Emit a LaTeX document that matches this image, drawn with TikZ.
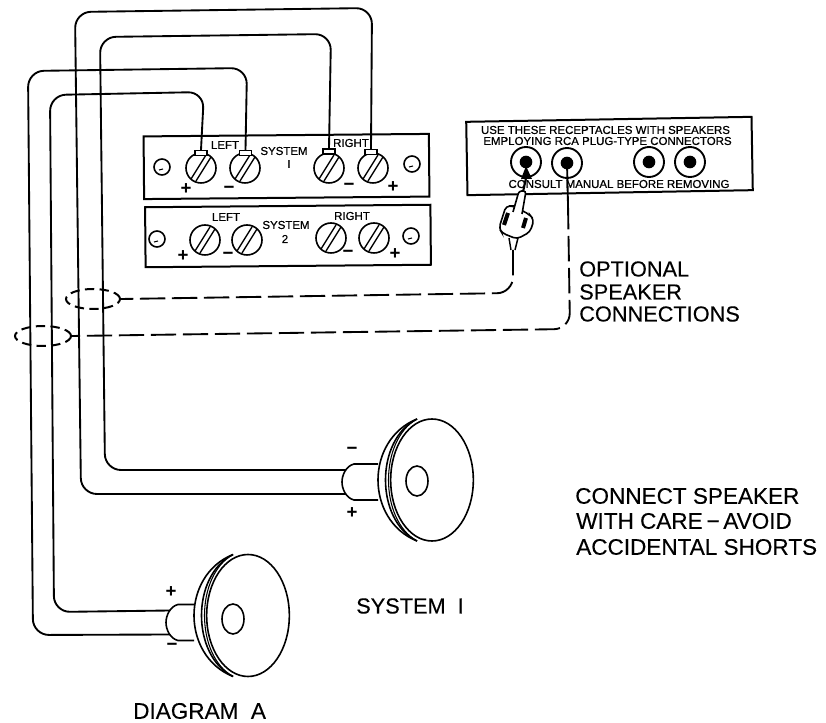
\documentclass[tikz,border=0pt]{standalone}
\usepackage{fontspec}
\setmainfont{Liberation Sans}
\newfontfamily\heavyfont[FakeBold=0.6]{Liberation Sans}
\newfontfamily\midfont[FakeBold=0.25]{Liberation Sans}
\usetikzlibrary{calc,
shapes.geometric,
positioning}

\tikzset{
    pics/speaker/.style n args={2}{code={
        \node [ellipse, draw, fill = white, line width = 1.2pt, inner sep = 0,
            minimum width = 62pt, minimum height = 91.5pt] (-face) at (0, 0) {};
        \node [ellipse, draw, line width = 1.2pt, inner sep = 0,
            minimum width = 16.5pt, minimum height = 22.5pt] (-hole) at (-15, {#2/2}) {};
        \draw [line width = 1.2pt] (-15, -61) .. controls (-67, -40) and (-67, 40) .. (-15, 61);
        \draw [line width = 1.2pt] (-15, -61) .. controls (-57, -40) and (-57, 40) .. (-15, 61);
        \draw [line width = .8pt] (-15, -61) .. controls (-53, -40) and (-53, 40) .. (-15, 61);
        % neck, #1 shortens it and #2 moves it down
        \draw [line width = 1.2pt] (-54, {#2-18}) -- ({-78+#1}, {#2-18})
            .. controls ({-86+#1}, {#2-16}) and ({-90+#1}, {#2-7}) .. ({-90+#1}, #2)
            .. controls ({-90+#1}, {#2+7}) and ({-86+#1}, {#2+16}) .. ({-78+#1}, {#2+18})
            -- (-54, {#2+18});
        \coordinate (-up) at ({-86+#1}, {#2-12});
        \coordinate (-low) at ({-86+#1}, {#2+12});
    }}
}

\begin{document}
\begin{tikzpicture} [
        x = 0.75pt,
        y = -0.75pt,
        wire/.style={line width = 1.4pt, rounded corners = 12pt},
        dashwire/.style={wire, dash pattern = on 19pt off 5pt},
        panel/.style={rectangle, draw, fill = white, line width = 1.5pt, minimum width = 214pt},
        screw/.style={circle, draw, line width = 1.2pt, inner sep = 0, minimum size = 22.5pt},
        smallscrew/.style={circle, draw, line width = 1.2pt, inner sep = 0, minimum size = 12pt},
        tabbox/.style={rectangle, draw, fill = white, line width = 1pt, inner sep = 0,
                minimum width = 9pt, minimum height = 3.8pt},
        socket/.style={circle, draw, line width = 1.4pt, inner sep = 0, minimum size = 22.5pt},
        socketdot/.style={circle, fill = black, inner sep = 0, minimum size = 9.5pt},
        ring/.style={ellipse, draw, line width = 1.5pt, inner sep = 0,
                dash pattern = on 7pt off 4pt, minimum height = 15pt},
        smalltext/.style={inner sep = 0, font = \heavyfont\fontsize{8.6pt}{10pt}\selectfont},
        bigtext/.style={inner sep = 0, anchor = west, font = \midfont\fontsize{16.3pt}{19pt}\selectfont},
        caretext/.style={bigtext, font = \midfont\fontsize{16.9pt}{19pt}\selectfont},
        sign/.style={inner sep = 0, font = \fontsize{14pt}{16pt}\selectfont\bfseries}]

    \useasboundingbox (0, 0) rectangle (826, 723);

    % panels
    \node [panel, rotate = .5, minimum height = 47pt] (sysone) at (286.5, 166.5) {};
    \node [panel, rotate = .5, minimum height = 45pt] (systwo) at (288, 236) {};
    \node [panel, rotate = 1, minimum width = 214pt, minimum height = 55pt] (rca) at (609.5, 156) {};

    \foreach \name/\px/\py in {lp/201/168, lm/245/168, rm/329/168, rp/373/168,
            slp/205/240, slm/247/240, srm/331/238, srp/374/238} {
        \node [screw] (\name) at (\px, \py) {};
        \draw [line width = 1pt] ($(\name) + (-10, 11)$) -- ($(\name) + (5, -13)$);
        \draw [line width = 1pt] ($(\name) + (-5, 13)$) -- ($(\name) + (10, -11)$);
    }
    \foreach \name/\px/\py in {aone/162/167, bone/412/164, atwo/157/239, btwo/411/236} {
        \node [smallscrew] (\name) at (\px, \py) {};
        \draw [line width = .8pt] ($(\name) + (-3, 3)$) -- ($(\name) + (1, 2)$);
    }

    \node [tabbox] (tlp) at (201, 153) {};
    \node [tabbox] (tlm) at (245.5, 153) {};
    \node [tabbox] (trm) at (329, 151.5) {};
    \node [tabbox] (trp) at (371, 152) {};

    % terminal labels
    \node [smalltext] (leftone) at (225, 145) {LEFT};
    \node [smalltext] (sysonea) at (284, 151) {SYSTEM};
    \node [smalltext] (sysoneb) at (289, 164) {I};
    \node [smalltext] (rightone) at (351, 143) {RIGHT};
    \node [smalltext] (lefttwo) at (226, 217) {LEFT};
    \node [smalltext] (systwoa) at (286, 225) {SYSTEM};
    \node [smalltext] (systwob) at (285, 239) {2};
    \node [smalltext] (righttwo) at (352, 216) {RIGHT};

    \node [sign] (plp) at (186, 189) {+};
    \node [sign] (plm) at (229, 190) {−};
    \node [sign] (prm) at (349, 187) {−};
    \node [sign] (prp) at (393, 187) {+};
    \node [sign] (qlp) at (183, 256) {+};
    \node [sign] (qlm) at (228, 256) {−};
    \node [sign] (qrm) at (348, 254) {−};
    \node [sign] (qrp) at (395, 254) {+};

    % receptacles
    \foreach \name/\px/\py in {socka/526/162, sockb/567/163, sockc/649/162, sockd/690/162} {
        \node [socket] (\name) at (\px, \py) {};
        \node [socketdot] (\name dot) at (\px, \py) {};
    }
    \node [smalltext] (rcaone) at (605.5, 130) {USE THESE RECEPTACLES WITH SPEAKERS};
    \node [smalltext] (rcatwo) at (607.5, 141) {EMPLOYING RCA PLUG-TYPE CONNECTORS};
    \node [smalltext] (rcathree) at (619, 184) {CONSULT MANUAL BEFORE REMOVING};

    % speakers
    \pic (spkone) at (432, 480) {speaker={0}{2}};
    \pic (spka) at (248, 615.5) {speaker={8}{7}};

    \node [sign] (spkminus) at (352, 451) {−};
    \node [sign] (spkplus) at (352, 513) {+};
    \node [sign] (aplus) at (171, 592) {+};
    \node [sign] (aminus) at (172, 647) {−};

    % speaker wires
    \draw [wire] (trp.north) -- (372, 8) -- (75, 12) -- (81, 494) -- (spkone-low);
    \draw [wire] (trm.north) -- (331, 34) -- (100, 37) -- (105, 470) -- (spkone-up);
    \draw [wire] (tlm.north) -- (247, 68) -- (28, 71) -- (33, 635) -- (spka-low);
    \draw [wire] (tlp.north) -- (204, 92) -- (50, 95) -- (54, 612) -- (spka-up);

    % optional connections
    \node [ring, minimum width = 40.5pt] (ringa) at (93, 299) {};
    \node [ring, minimum width = 42pt] (ringb) at (43, 336) {};

    \coordinate (plugend) at (513, 250);
    \coordinate (sockend) at (568, 204);
    \draw [dashwire] (plugend) -- (513, 293) -- (ringa.east);
    \draw [line width = 1.4pt] (sockb.center) -- (sockend);
    \draw [dashwire] (sockend) -- (570, 329) -- (ringb.east);

    % plug
    \fill (526, 166) -- (532, 179) -- (521, 179) -- cycle;
    \draw [line width = 1.6pt] (526, 178) -- (523, 192);
    \draw [line width = 1.2pt, fill = white, rounded corners = 3pt]
        (513, 206) -- (506, 206) -- (499, 228) -- (502, 233) -- (517, 239)
        -- (530, 232) -- (534, 220) -- (530, 215) -- (523, 211) -- cycle;
    \draw [line width = 1.2pt, fill = white, rounded corners = 2pt]
        (513, 212) -- (519, 191) -- (526, 191) -- (522, 214);
    \draw [line width = 3pt] (508, 213) -- (504, 225);
    \draw [line width = 3pt] (526, 218) -- (523, 228);
    \draw [line width = 1.1pt] (509, 238) -- (511, 250);
    \draw [line width = 1.1pt] (518, 238) -- (515, 250);

    % texts
    \node [bigtext] (opta) at (579, 269) {OPTIONAL};
    \node [bigtext] (optb) at (579, 292) {SPEAKER};
    \node [bigtext] (optc) at (579, 314) {CONNECTIONS};
    \node [caretext] (carea) at (575, 496) {CONNECT SPEAKER};
    \node [caretext] (careb) at (576, 521) {WITH CARE\,−\,AVOID};
    \node [caretext] (carec) at (576, 547) {ACCIDENTAL SHORTS};
    \node [bigtext] (sysl) at (356, 606) {SYSTEM\ \ I};
    \node [caretext] (diag) at (133, 711) {DIAGRAM\ \ A};

\end{tikzpicture}
\end{document}
